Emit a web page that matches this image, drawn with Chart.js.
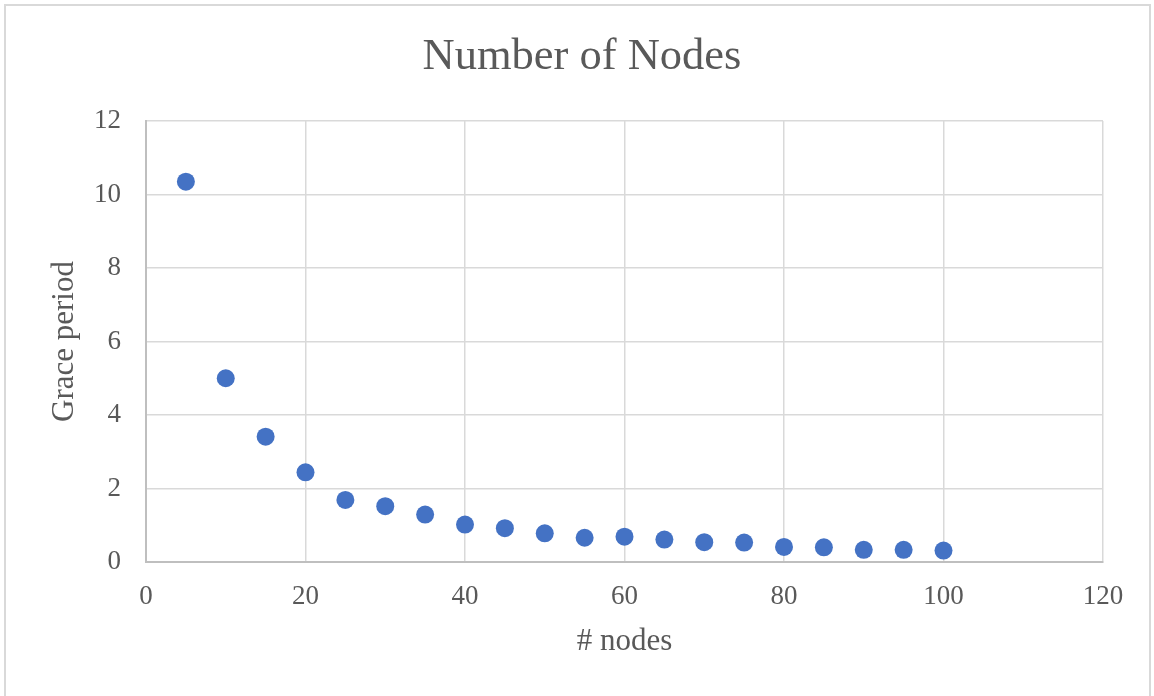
<!DOCTYPE html>
<html>
<head>
<meta charset="utf-8">
<script src="https://cdn.jsdelivr.net/npm/chart.js@4/dist/chart.umd.min.js"></script>
<style>
  html, body { margin: 0; padding: 0; background: #ffffff; }
  #wrap { position: relative; width: 1154px; height: 696px; }
</style>
</head>
<body>
<div id="wrap"><canvas id="c" width="1154" height="696"></canvas></div>
<script>
// Grace period measured against the number of nodes
const nodeCounts = [5, 10, 15, 20, 25, 30, 35, 40, 45, 50, 55, 60, 65, 70, 75, 80, 85, 90, 95, 100];
const gracePeriods = [10.35, 5.0, 3.41, 2.44, 1.69, 1.52, 1.29, 1.02, 0.92, 0.78, 0.66, 0.69, 0.61, 0.54, 0.53, 0.41, 0.40, 0.33, 0.33, 0.31];
const xTicks = [0, 20, 40, 60, 80, 100, 120];
const yTicks = [0, 2, 4, 6, 8, 10, 12];

const chartTitle = 'Number of Nodes';
const xTitle = '# nodes';
const yTitle = 'Grace period';

const textColor = '#595959';
const gridColor = '#d9d9d9';
const axisColor = '#bfbfbf';
const serif = "'Liberation Serif', 'Times New Roman', serif";

const points = nodeCounts.map((n, i) => ({ x: n, y: gracePeriods[i] }));

// Light frame around the whole chart
const framePlugin = {
  id: 'frame',
  beforeDraw(chart) {
    const ctx = chart.ctx;
    ctx.save();
    ctx.fillStyle = '#ffffff';
    ctx.fillRect(0, 0, chart.width, chart.height);
    ctx.strokeStyle = gridColor;
    ctx.lineWidth = 2;
    ctx.strokeRect(5, 5, 1145, 700);
    ctx.restore();
  }
};

new Chart(document.getElementById('c'), {
  type: 'scatter',
  data: {
    datasets: [{
      label: yTitle,
      data: points,
      xAxisID: 'x',
      yAxisID: 'y',
      backgroundColor: '#4472C4',
      borderColor: '#4472C4',
      borderWidth: 0,
      pointRadius: 9,
      pointHoverRadius: 9,
      showLine: false
    }]
  },
  options: {
    responsive: false,
    animation: false,
    layout: { padding: { left: 10, right: 0, top: 0, bottom: 0 } },
    plugins: {
      legend: { display: false },
      tooltip: { enabled: false },
      title: {
        display: true,
        text: chartTitle,
        color: textColor,
        font: { family: serif, size: 44.5, weight: 'normal', lineHeight: 1.2 },
        padding: { top: 31, bottom: 36.6 }
      }
    },
    scales: {
      x: {
        type: 'linear',
        min: 0,
        max: 120,
        afterFit(scale) { scale.height = 134; },
        afterBuildTicks(scale) { scale.ticks = xTicks.map(v => ({ value: v })); },
        grid: { color: gridColor, lineWidth: 1.5, drawTicks: false },
        border: { color: axisColor, width: 2 },
        ticks: {
          color: textColor,
          padding: 19,
          maxRotation: 0,
          font: { family: serif, size: 27, lineHeight: 1.2 }
        },
        title: {
          display: true,
          text: xTitle,
          color: textColor,
          font: { family: serif, size: 31, lineHeight: 1.2 },
          padding: { top: 0, bottom: 35.4 }
        }
      },
      y: {
        type: 'linear',
        position: 'left',
        min: 0,
        max: 12,
        afterFit(scale) { scale.width = 136; },
        afterBuildTicks(scale) { scale.ticks = yTicks.map(v => ({ value: v })); },
        grid: { color: gridColor, lineWidth: 1.5, drawTicks: false },
        border: { color: axisColor, width: 2 },
        ticks: {
          color: textColor,
          padding: 25,
          font: { family: serif, size: 27, lineHeight: 1.2 }
        },
        title: {
          display: true,
          text: yTitle,
          color: textColor,
          font: { family: serif, size: 31, lineHeight: 1.2 },
          padding: { top: 36.4, bottom: 0 }
        }
      },
      // empty strip that keeps white space to the right of the plot
      yRight: {
        type: 'linear',
        position: 'right',
        min: 0,
        max: 12,
        afterFit(scale) { scale.width = 51; },
        grid: { display: false, drawOnChartArea: false },
        border: { display: false },
        ticks: { display: false }
      }
    }
  },
  plugins: [framePlugin]
});
</script>
</body>
</html>
